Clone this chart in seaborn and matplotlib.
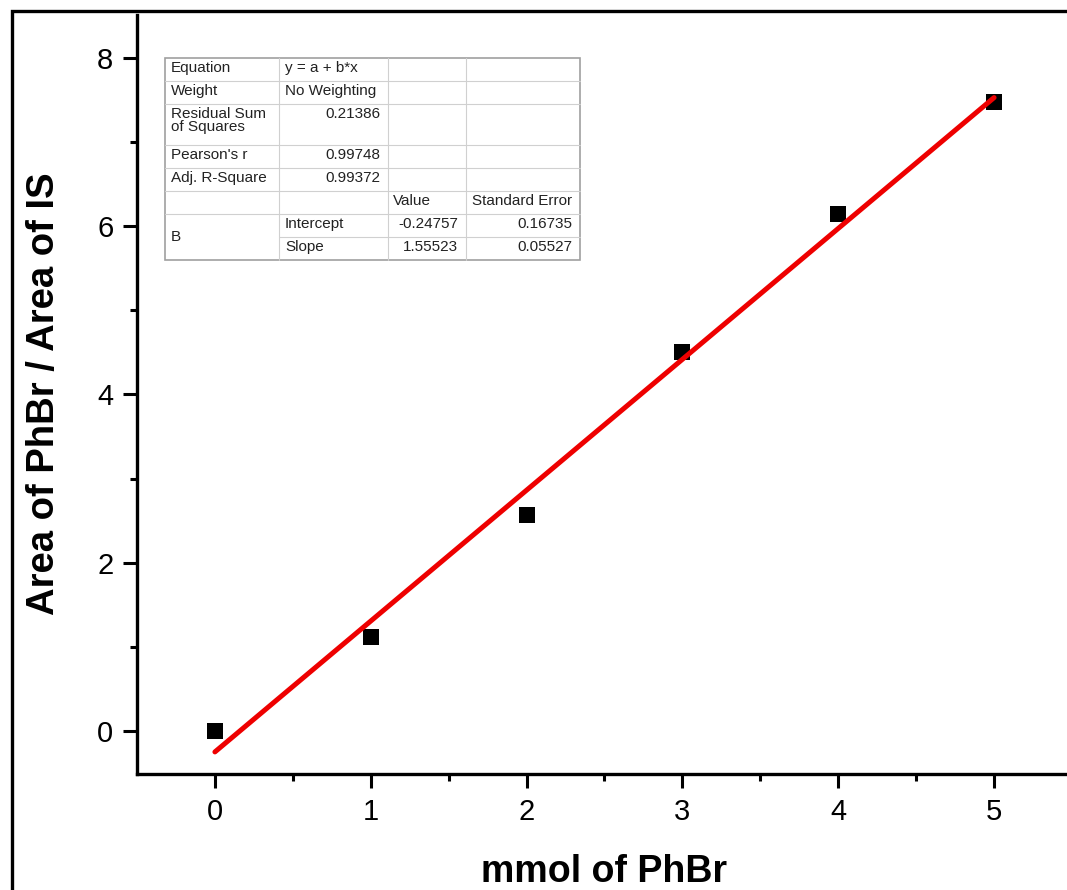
import numpy as np
import pandas as pd
import matplotlib
matplotlib.use("Agg")
import matplotlib.pyplot as plt
import seaborn as sns
from matplotlib.lines import Line2D
from matplotlib.patches import Rectangle

# ---- data ----
mmol = [0, 1, 2, 3, 4, 5]
ratio = [0.0, 1.12, 2.57, 4.50, 6.15, 7.48]
intercept = -0.24757
slope = 1.55523
x_ticks = [0, 1, 2, 3, 4, 5]
y_ticks = [0, 2, 4, 6, 8]

table_rows = [
    ["Equation", "y = a + b*x", "", ""],
    ["Weight", "No Weighting", "", ""],
    ["Residual Sum\nof Squares", "0.21386", "", ""],
    ["Pearson's r", "0.99748", "", ""],
    ["Adj. R-Square", "0.99372", "", ""],
    ["", "", "Value", "Standard Error"],
    ["B", "Intercept", "-0.24757", "0.16735"],
    ["", "Slope", "1.55523", "0.05527"],
]

sns.set_style("ticks")
plt.rcParams['font.family'] = ['Liberation Sans', 'DejaVu Sans']
plt.rcParams['text.color'] = 'black'
plt.rcParams['axes.labelcolor'] = 'black'
plt.rcParams['xtick.color'] = 'black'
plt.rcParams['ytick.color'] = 'black'

W, H = 1067, 890
fig = plt.figure(figsize=(W / 100, H / 100), dpi=100)
fig.patch.set_facecolor("white")

ax = fig.add_axes([137 / W, 116 / H, (1072 - 137) / W, (774 - 15) / H])

df = pd.DataFrame({"mmol": mmol, "ratio": ratio})
fit_x = np.array([mmol[0], mmol[-1]], dtype=float)
fit_df = pd.DataFrame({"mmol": fit_x, "ratio": intercept + slope * fit_x})

sns.scatterplot(data=df, x="mmol", y="ratio", marker="s", s=140, color="black",
                edgecolor="black", linewidth=0, ax=ax, zorder=3)
sns.lineplot(data=fit_df, x="mmol", y="ratio", color="#ee0000", linewidth=3.6,
             ax=ax, zorder=4, solid_capstyle="round")

ax.set_xlim(-0.5, 5.5)
ax.set_ylim(-0.51, 8.51)
ax.set_xticks(x_ticks)
ax.set_yticks(y_ticks)
ax.set_xticks(np.arange(0.5, 5.5, 1.0), minor=True)
ax.set_yticks(np.arange(1, 9, 2), minor=True)
ax.tick_params(axis="both", which="major", direction="out", length=10, width=2.2,
               labelsize=21, pad=7, color="black", labelcolor="black")
ax.tick_params(axis="both", which="minor", direction="out", length=5, width=2.2)
for s in ["top", "right"]:
    ax.spines[s].set_visible(False)
for s in ["left", "bottom"]:
    ax.spines[s].set_linewidth(2.4)
    ax.spines[s].set_color("black")

ax.set_xlabel("mmol of PhBr", fontsize=27, fontweight="bold")
ax.set_ylabel("Area of PhBr / Area of IS", fontsize=27.5, fontweight="bold")
ax.xaxis.set_label_coords((604 - 137) / (1072 - 137), -80 / (774 - 15))
ax.yaxis.set_label_coords(-(137 - 62) / (1072 - 137), (774 - 394) / (774 - 15))

# ---- table (figure pixel coordinates, top-left origin) ----
def fx(px):
    return px / W

def fy(py):
    return 1 - py / H

col_x = [165, 279, 388, 466, 580]
row_y = [58, 81, 104, 145, 168, 191, 214, 237, 260]
grid_c = "#d0d0d0"
fig.add_artist(Rectangle((fx(col_x[0]), fy(row_y[-1])), fx(col_x[-1]) - fx(col_x[0]),
                         fy(row_y[0]) - fy(row_y[-1]), transform=fig.transFigure,
                         facecolor="white", edgecolor="#a0a0a0", linewidth=1.2, zorder=5))
for i, yy in enumerate(row_y[1:-1], start=1):
    x0 = col_x[1] if i == 7 else col_x[0]
    fig.add_artist(Line2D([fx(x0), fx(col_x[-1])], [fy(yy), fy(yy)],
                          transform=fig.transFigure, color=grid_c, lw=0.8, zorder=6))
for xx in col_x[1:-1]:
    fig.add_artist(Line2D([fx(xx), fx(xx)], [fy(row_y[0]), fy(row_y[-1])],
                          transform=fig.transFigure, color=grid_c, lw=0.8, zorder=6))

fs = 11
for r, row in enumerate(table_rows):
    top = row_y[r]
    for c, txt in enumerate(row):
        if not txt:
            continue
        if c == 0 and txt == "B":
            yc = (row_y[6] + row_y[8]) / 2
            fig.text(fx(col_x[0] + 6), fy(yc), txt, fontsize=fs, ha="left", va="center",
                     color="#222222", zorder=7)
            continue
        numeric = txt[0].isdigit() or txt[0] == "-"
        if r == 5:
            ha, xpos = ("left", col_x[c] + 5) if c == 2 else ("right", col_x[c + 1] - 8)
        elif numeric:
            ha, xpos = "right", col_x[c + 1] - 8
        else:
            ha, xpos = "left", col_x[c] + 6
        fig.text(fx(xpos), fy(top + 3), txt, fontsize=fs, ha=ha, va="top",
                 linespacing=0.95, color="#222222", zorder=7)

# ---- outer frame ----
fig.add_artist(Rectangle((fx(12), fy(H + 20)), fx(W + 40), fy(11) - fy(H + 20),
                         transform=fig.transFigure, facecolor="none", edgecolor="black",
                         linewidth=2.4, zorder=10, clip_on=False))

fig.savefig("out.png", dpi=100)
